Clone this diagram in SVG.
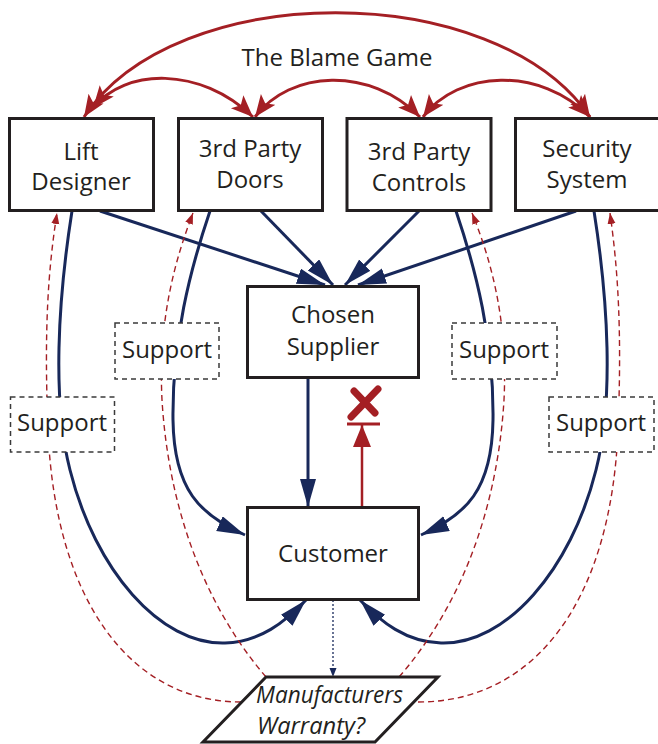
<svg xmlns="http://www.w3.org/2000/svg" width="658" height="744" viewBox="0 0 658 744">
<defs>
<style>
.box{fill:#fff;stroke:#231f20;stroke-width:3}
.sup{fill:#fff;stroke:#3a3a3a;stroke-width:1.5;stroke-dasharray:5 4}
.t{font-family:"Open Sans","Noto Sans",sans-serif;font-size:24px;fill:#231f20;text-anchor:middle}
.ti{font-family:"Open Sans","Noto Sans",sans-serif;font-size:24px;font-style:italic;fill:#231f20}
.nv{fill:none;stroke:#18285a;stroke-width:3}
.rd{fill:none;stroke:#a41f24;stroke-width:3}
.rdd{fill:none;stroke:#a41f24;stroke-width:1.4;stroke-dasharray:6 4}
</style>
<marker id="an" markerUnits="userSpaceOnUse" markerWidth="30" markerHeight="18" refX="28" refY="8" orient="auto"><path d="M0,0 L28,8 L0,16 z" fill="#18285a"/></marker>
<marker id="ar" markerUnits="userSpaceOnUse" markerWidth="24" markerHeight="20" refX="22" refY="9" orient="auto-start-reverse"><path d="M0,0 L22,9 L0,18 L5,9 z" fill="#a41f24"/></marker>
<marker id="ar2" markerUnits="userSpaceOnUse" markerWidth="24" markerHeight="20" refX="22" refY="9" orient="auto"><path d="M0,0 L22,9 L0,18 z" fill="#a41f24"/></marker>
<marker id="ard" markerUnits="userSpaceOnUse" markerWidth="12" markerHeight="10" refX="11" refY="4" orient="auto"><path d="M0,0 L11,4 L0,8 z" fill="#a41f24"/></marker>
<marker id="and" markerUnits="userSpaceOnUse" markerWidth="10" markerHeight="8" refX="9" refY="3.5" orient="auto"><path d="M0,0 L9,3.5 L0,7 z" fill="#18285a"/></marker>
</defs>
<g id="connectors">
<!-- blame game -->
<path class="rd" d="M84,117 C175,-22 495,-22 590,117" marker-start="url(#ar)" marker-end="url(#ar)"/>
<path class="rd" d="M93,108 C125,68 200,66 253,117" marker-start="url(#ar)" marker-end="url(#ar)"/>
<path class="rd" d="M255,117 C290,70 370,66 420,117" marker-start="url(#ar)" marker-end="url(#ar)"/>
<path class="rd" d="M423,117 C458,70 540,66 590,117" marker-start="url(#ar)" marker-end="url(#ar)"/>
<!-- to chosen supplier -->
<path class="nv" d="M100,211 L325,285" marker-end="url(#an)"/>
<path class="nv" d="M261,211 L333,285" marker-end="url(#an)"/>
<path class="nv" d="M419,211 L345,285" marker-end="url(#an)"/>
<path class="nv" d="M576,211 L358,285" marker-end="url(#an)"/>
<path class="nv" d="M308,378 L308,507" marker-end="url(#an)"/>
<!-- blocked -->
<path class="rd" style="stroke-width:2.5" d="M362,507 L362,425" marker-end="url(#ar2)"/>
<path class="rd" d="M347,424 L380,424"/>
<path d="M351,417 L378,389 M354,391 L375,413" fill="none" stroke="#a41f24" stroke-width="7" stroke-linecap="round"/>
<!-- support to customer -->
<path class="nv" d="M72,211 C58,300 52,400 70,470 C95,570 160,645 225,643 C260,642 285,622 306,600" marker-end="url(#an)"/>
<path class="nv" d="M594,211 C608,300 614,400 596,470 C571,570 506,645 441,643 C406,642 381,622 360,600" marker-end="url(#an)"/>
<path class="nv" d="M210,211 C190,270 172,340 173,420 C174,490 200,515 245,535" marker-end="url(#an)"/>
<path class="nv" d="M456,211 C476,270 494,340 493,420 C492,490 466,515 421,535" marker-end="url(#an)"/>
<!-- warranty dashed -->
<path class="rdd" d="M241,702 C130,702 55,600 48,430 C44,330 48,270 57,213" marker-end="url(#ard)"/>
<path class="rdd" d="M266,677 C200,600 168,500 162,400 C158,320 175,260 193,213" marker-end="url(#ard)"/>
<path class="rdd" d="M399,677 C466,600 498,500 504,400 C508,320 491,260 472,213" marker-end="url(#ard)"/>
<path class="rdd" d="M418,702 C536,702 611,600 618,430 C622,330 618,270 610,213" marker-end="url(#ard)"/>
<path d="M333,600 L333,677" fill="none" stroke="#18285a" stroke-width="1.3" stroke-dasharray="2 2" marker-end="url(#and)"/>
</g>
<text class="t" x="337" y="66">The Blame Game</text>
<g id="lift"><rect class="box" x="9.5" y="118.5" width="144" height="92"/><text class="t" x="81" y="160">Lift</text><text class="t" x="81" y="190">Designer</text></g>
<g id="doors"><rect class="box" x="178.5" y="118.5" width="144" height="92"/><text class="t" x="250" y="157">3rd Party</text><text class="t" x="250" y="188">Doors</text></g>
<g id="controls"><rect class="box" x="347" y="118.5" width="144" height="92"/><text class="t" x="419" y="160">3rd Party</text><text class="t" x="419" y="191">Controls</text></g>
<g id="security"><rect class="box" x="515.5" y="118.5" width="146" height="92"/><text class="t" x="587" y="157">Security</text><text class="t" x="587" y="188">System</text></g>
<g id="chosen"><rect class="box" x="247.5" y="286.5" width="171" height="91"/><text class="t" x="333" y="323">Chosen</text><text class="t" x="333" y="355">Supplier</text></g>
<g id="customer"><rect class="box" x="247.5" y="507.5" width="171" height="92"/><text class="t" x="333" y="562">Customer</text></g>
<g id="warranty"><polygon class="box" points="266,677 438,677 375,742 203,742"/><text class="ti" x="256" y="703" textLength="147" lengthAdjust="spacingAndGlyphs">Manufacturers</text><text class="ti" x="257" y="734" textLength="108" lengthAdjust="spacingAndGlyphs">Warranty?</text></g>
<g id="support1"><rect class="sup" x="10.5" y="397" width="104" height="55"/><text class="t" x="62" y="431">Support</text></g>
<g id="support2"><rect class="sup" x="115" y="323" width="104" height="56"/><text class="t" x="167" y="358">Support</text></g>
<g id="support3"><rect class="sup" x="452" y="323" width="105" height="56"/><text class="t" x="504" y="358">Support</text></g>
<g id="support4"><rect class="sup" x="549" y="397" width="105" height="55"/><text class="t" x="601" y="431">Support</text></g>
</svg>
